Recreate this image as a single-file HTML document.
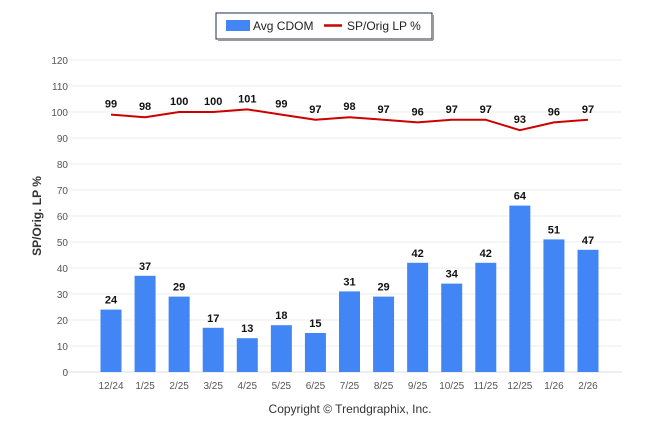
<!DOCTYPE html>
<html><head><meta charset="utf-8"><style>
body{margin:0;background:#fff;font-family:"Liberation Sans",sans-serif}
</style></head><body>
<svg width="646" height="434" xmlns="http://www.w3.org/2000/svg" font-family="Liberation Sans, sans-serif">
<g>
<rect x="216" y="13" width="216" height="26" fill="#fff" stroke="#1f2d4d" stroke-width="1"/>
<line x1="218" y1="40" x2="433" y2="40" stroke="#999" stroke-width="2"/>
<line x1="433" y1="15" x2="433" y2="40" stroke="#999" stroke-width="2"/>
<rect x="226" y="20" width="24" height="11" fill="#4285f4"/>
<text x="253" y="30" font-size="12" fill="#222">Avg CDOM</text>
<line x1="324" y1="25.5" x2="342" y2="25.5" stroke="#c00" stroke-width="2.5"/>
<text x="347" y="30" font-size="12" fill="#222">SP/Orig LP %</text>
</g>
<text transform="translate(41,216) rotate(-90)" text-anchor="middle" font-size="12" font-weight="bold" fill="#333">SP/Orig. LP %</text>
<g id="grid"></g><g id="bars"></g><g id="line"></g><g id="labels"></g>
<text x="350" y="413" text-anchor="middle" font-size="12" fill="#333">Copyright © Trendgraphix, Inc.</text>
</svg>
<script>
const categories=["12/24","1/25","2/25","3/25","4/25","5/25","6/25","7/25","8/25","9/25","10/25","11/25","12/25","1/26","2/26"];
const cdom=[24,37,29,17,13,18,15,31,29,42,34,42,64,51,47];
const spPct=[99,98,100,100,101,99,97,98,97,96,97,97,93,96,97];
const yTicks=[0,10,20,30,40,50,60,70,80,90,100,110,120];
const NS="http://www.w3.org/2000/svg";
const L=78,R=622,Y0=372,Y1=60;
const y=v=>Y0-(v/120)*(Y0-Y1);
const X0=111,X1=588;
const x=i=>X0+(X1-X0)*i/(categories.length-1);
function mk(p,t,a){const e=document.createElementNS(NS,t);for(const k in a)e.setAttribute(k,a[k]);document.getElementById(p).appendChild(e);return e;}
yTicks.forEach(v=>{
 const g=mk("grid","line",{x1:L-14,x2:R,y1:y(v),y2:y(v),stroke:v===0?"#ddd":"#eee","stroke-width":1});
 
 
 const t=mk("grid","text",{x:68,y:y(v)+4,"text-anchor":"end","font-size":10,fill:"#555"});t.textContent=v;
 
 
});
categories.forEach((c,i)=>{
 const b=mk("bars","rect",{x:x(i)-10.5,y:y(cdom[i]),width:21,height:Y0-y(cdom[i]),fill:"#4285f4"});
 
 
 const t=mk("labels","text",{x:x(i),y:y(cdom[i])-6,"text-anchor":"middle","font-size":11,"font-weight":"bold",fill:"#111"});t.textContent=cdom[i];
 
 
 const p=mk("labels","text",{x:x(i),y:y(spPct[i])-7,"text-anchor":"middle","font-size":11,"font-weight":"bold",fill:"#111"});p.textContent=spPct[i];
 
 
 const xl=mk("labels","text",{x:x(i),y:389,"text-anchor":"middle","font-size":10,fill:"#555"});xl.textContent=c;
 
 
});
let d="";spPct.forEach((v,i)=>{d+=(i?"L":"M")+x(i)+","+y(v);});
const ln=mk("line","path",{d:d,fill:"none",stroke:"#c00","stroke-width":2,"stroke-linejoin":"round"});


</script>
</body></html>
